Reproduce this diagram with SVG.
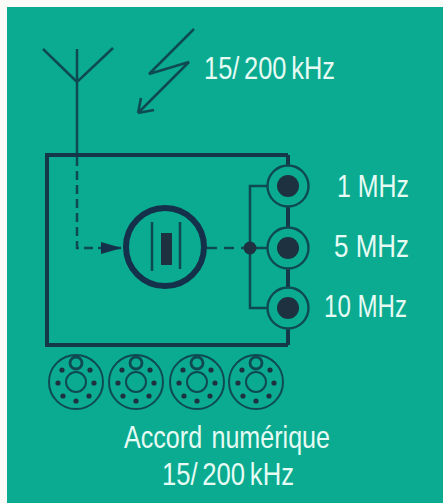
<svg xmlns="http://www.w3.org/2000/svg" width="443" height="503" viewBox="0 0 443 503">
<style>
.l{fill:none;stroke:#0f4a52;stroke-width:2.5}
.b{fill:none;stroke:#14384a;stroke-width:4}
.k{fill:none;stroke:#0f4a52;stroke-width:2}
.d{fill:#1d3140}
text{font-family:"Liberation Sans",Arial,sans-serif;fill:#e6fbf4;font-size:32px;word-spacing:-3px}
</style>
<defs>
<g id="knob">
<circle class="k" r="27"/><circle class="k" r="10"/>
<circle cx="0" cy="-19" r="6" fill="#0aab90" stroke="#0f4a52" stroke-width="2.8"/>
<circle class="d" cx="-14" cy="-12" r="2.6"/><circle class="d" cx="14" cy="-12" r="2.6"/>
<circle class="d" cx="-18" cy="1" r="2.6"/><circle class="d" cx="18" cy="1" r="2.6"/>
<circle class="d" cx="-13" cy="14" r="2.6"/><circle class="d" cx="13" cy="14" r="2.6"/>
<circle class="d" cx="0" cy="19" r="2.6"/>
</g>
<g id="jack">
<circle r="20.5" fill="#0aab90" stroke="#0f4a52" stroke-width="2.4"/><circle r="11" class="d"/>
</g>
</defs>
<rect width="443" height="503" fill="#fbfcf8"/>
<rect x="7" y="7" width="436" height="496" fill="#0aab90"/>
<g id="antenna"><path class="l" d="M43 49L77 82L113 48M77 49V155"/></g>
<g id="lightning"><path class="l" d="M194 29L149 74L189 62L138 113M138 113L154 110M138 113L141 98"/></g>
<g id="box"><path class="b" d="M288 155H47V345H288"/></g>
<g id="connectors">
<path class="l" d="M77 157V248H122" stroke-dasharray="9 5"/>
<path d="M122 248L101 242V254Z" fill="#14304a"/>
<path class="l" d="M207 248H250" stroke-dasharray="10 7"/>
<path class="l" d="M268 186H250V308H268M250 248H268"/>
<circle cx="250" cy="248" r="6.5" class="d"/>
<path class="b" d="M288 155V345"/>
</g>
<g id="resonator">
<circle cx="165" cy="247" r="39" fill="#0aab90" stroke="#14304a" stroke-width="6"/>
<path class="l" d="M152 222V271M180 222V269"/>
<rect x="161" y="233" width="11" height="32" fill="#1d3140"/>
</g>
<use id="jack1" href="#jack" x="288" y="186"/>
<use id="jack2" href="#jack" x="288" y="248"/>
<use id="jack3" href="#jack" x="288" y="308"/>
<use id="knob1" href="#knob" x="76" y="382"/>
<use id="knob2" href="#knob" x="136" y="382"/>
<use id="knob3" href="#knob" x="197" y="382"/>
<use id="knob4" href="#knob" x="256" y="382"/>
<g id="labels">
<text x="204" y="79" textLength="131" lengthAdjust="spacingAndGlyphs">15/ 200 kHz</text>
<text x="337" y="197" textLength="72" lengthAdjust="spacingAndGlyphs" style="word-spacing:0">1 MHz</text>
<text x="334" y="257" textLength="75" lengthAdjust="spacingAndGlyphs" style="word-spacing:0">5 MHz</text>
<text x="324" y="317" textLength="83" lengthAdjust="spacingAndGlyphs" style="word-spacing:0">10 MHz</text>
<text x="124" y="448" textLength="206" lengthAdjust="spacingAndGlyphs" style="word-spacing:3px">Accord numérique</text>
<text x="162" y="485" textLength="132" lengthAdjust="spacingAndGlyphs">15/ 200 kHz</text>
</g>
</svg>
